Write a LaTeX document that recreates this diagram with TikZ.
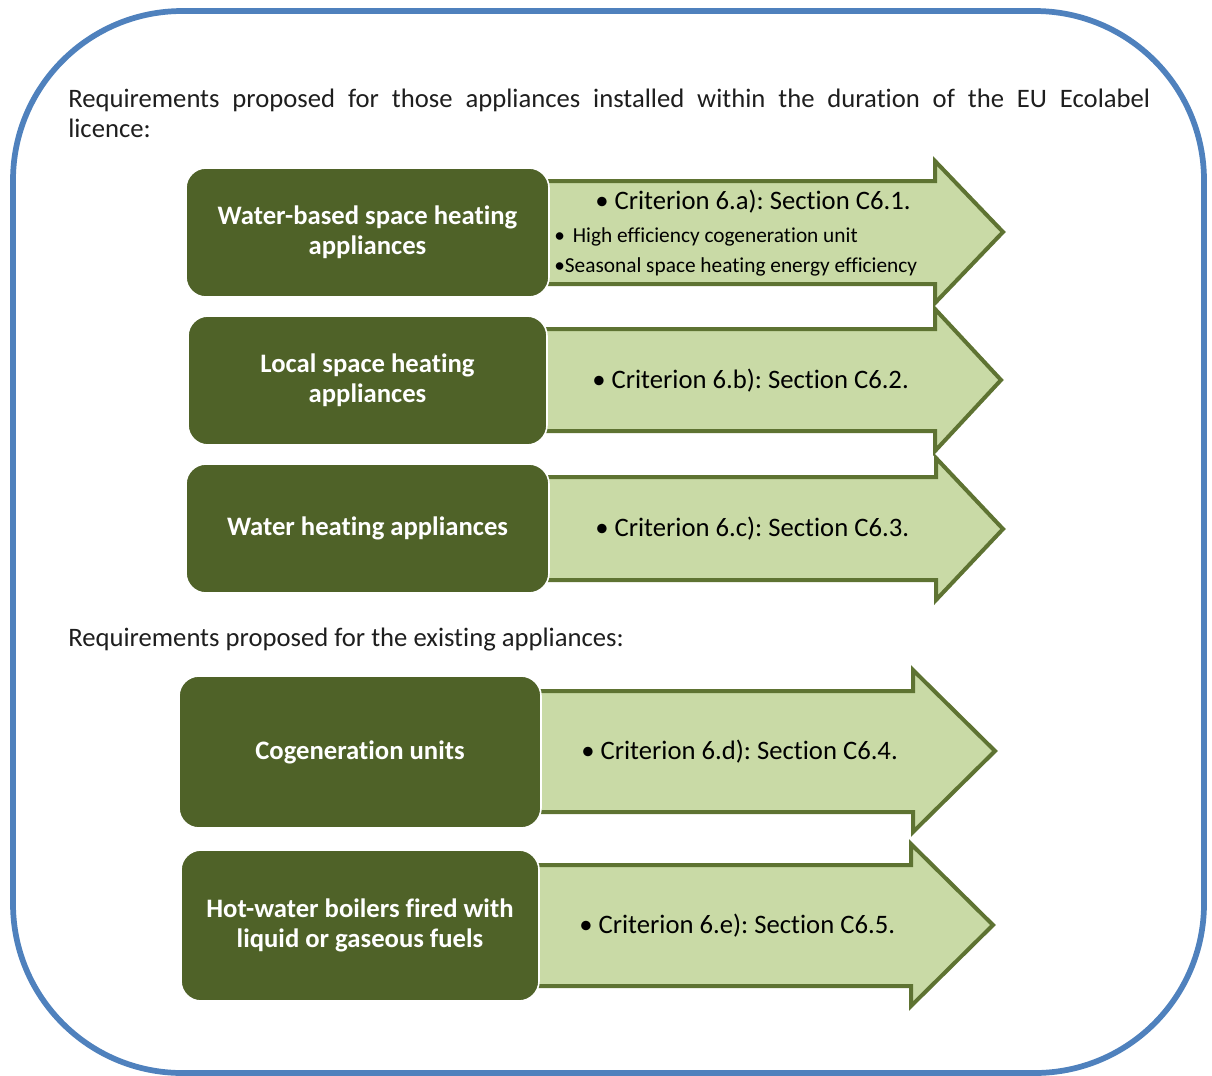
\documentclass[tikz,border=0pt]{standalone}
\usepackage{fontspec}
\setmainfont{Carlito}[Ligatures=NoCommon]
\frenchspacing
\definecolor{frameblue}{RGB}{79,129,189}
\definecolor{dkgreen}{RGB}{79,98,40}
\definecolor{ltgreen}{RGB}{201,218,166}
\definecolor{arrbord}{RGB}{94,115,50}
\definecolor{headtxt}{RGB}{30,30,30}
\begin{document}
\begin{tikzpicture}[x=0.75pt,y=-0.75pt,
  gbox/.style={fill=dkgreen, draw=white, line width=1.2pt, rounded corners=15pt},
  garr/.style={fill=ltgreen, draw=arrbord, line width=3pt, line join=miter, miter limit=10},
  boxtxt/.style={text=white, font=\bfseries\fontsize{20}{22.5}\selectfont, align=center, inner sep=0pt},
  crit/.style={anchor=base west, inner sep=0pt, font=\fontsize{20}{23}\selectfont},
  subcrit/.style={anchor=base west, inner sep=0pt, font=\fontsize{16}{19}\selectfont},
  head/.style={anchor=base west, inner sep=0pt, text=headtxt, font=\fontsize{20}{22.5}\selectfont}]
\useasboundingbox (0,0) rectangle (1212,1075);
% frame
\draw[frameblue, line width=4.3pt, rounded corners=127pt] (13,11) rectangle (1204,1073);
% headings
\node[head] (h1) at (68,107) {\hbox to 811.5pt{Requirements\hfill proposed\hfill for\hfill those\hfill appliances\hfill installed\hfill within\hfill the\hfill duration\hfill of\hfill the\hfill EU\hfill Ecolabel}};
\node[head] (h1b) at (68,137) {licence:};
\node[head] (h2) at (68,646) {Requirements proposed for the existing appliances:};
% arrows
\path[garr] (540,181) -- (935,181) -- (935,161) -- (1003,232) -- (935,303) -- (935,284) -- (540,284);
\path[garr] (538,329) -- (935,329) -- (935,309) -- (1001,380) -- (935,451) -- (935,431) -- (538,431);
\path[garr] (540,477) -- (936,477) -- (936,458) -- (1003,529) -- (936,600) -- (936,580) -- (540,580);
\path[garr] (532,691) -- (913,691) -- (913,670) -- (995,751) -- (913,832) -- (913,812) -- (532,812);
\path[garr] (530,865) -- (911,865) -- (911,844) -- (993,925) -- (911,1006) -- (911,986) -- (530,986);
% boxes
\path[gbox] (186,168) rectangle (549,297);
\path[gbox] (188,316) rectangle (547,445);
\path[gbox] (186,464) rectangle (549,593);
\path[gbox] (179,676) rectangle (541,828);
\path[gbox] (181,850) rectangle (539,1001);
\node[boxtxt] (b1) at (367.5,232.5) {Water-based space heating\\appliances};
\node[boxtxt] (b2) at (367.5,380.5) {Local space heating\\appliances};
\node[boxtxt] (b3) at (367.5,528.5) {Water heating appliances};
\node[boxtxt] (b4) at (360,752) {Cogeneration units};
\node[boxtxt] (b5) at (360,925.5) {Hot-water boilers fired with\\liquid or gaseous fuels};
% arrow texts
\node[crit] (c1) at (595,209) {• Criterion 6.a): Section C6.1.};
\node[subcrit] (c1a) at (554,242) {•\hspace{6pt}High efficiency cogeneration unit};
\node[subcrit] (c1b) at (554,272) {•Seasonal space heating energy efficiency};
\node[crit] (c2) at (592,388) {• Criterion 6.b): Section C6.2.};
\node[crit] (c3) at (595,536) {• Criterion 6.c): Section C6.3.};
\node[crit] (c4) at (581,759) {• Criterion 6.d): Section C6.4.};
\node[crit] (c5) at (579,933) {• Criterion 6.e): Section C6.5.};
\end{tikzpicture}
\end{document}
